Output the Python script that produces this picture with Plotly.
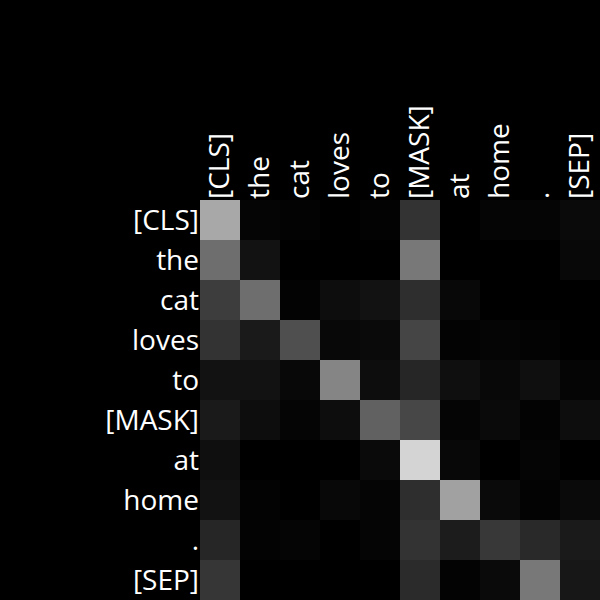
import plotly.graph_objects as go

tokens = ["[CLS]", "the", "cat", "loves", "to", "[MASK]", "at", "home", ".", "[SEP]"]

# attention weights (rows = query token, cols = key token)
attn = [
    [0.66, 0.02, 0.01, 0.00, 0.01, 0.20, 0.00, 0.02, 0.02, 0.04],
    [0.43, 0.07, 0.00, 0.00, 0.00, 0.47, 0.00, 0.00, 0.00, 0.03],
    [0.24, 0.43, 0.01, 0.05, 0.07, 0.18, 0.03, 0.00, 0.00, 0.00],
    [0.20, 0.10, 0.31, 0.03, 0.04, 0.27, 0.01, 0.02, 0.01, 0.00],
    [0.07, 0.07, 0.03, 0.52, 0.05, 0.15, 0.06, 0.03, 0.06, 0.02],
    [0.10, 0.05, 0.02, 0.05, 0.38, 0.28, 0.02, 0.04, 0.01, 0.05],
    [0.06, 0.00, 0.00, 0.00, 0.04, 0.83, 0.03, 0.00, 0.02, 0.00],
    [0.07, 0.01, 0.00, 0.03, 0.02, 0.18, 0.63, 0.04, 0.01, 0.04],
    [0.15, 0.01, 0.02, 0.00, 0.02, 0.20, 0.11, 0.22, 0.16, 0.10],
    [0.21, 0.00, 0.00, 0.00, 0.00, 0.17, 0.01, 0.04, 0.47, 0.09],
]

fig = go.Figure(
    go.Heatmap(
        z=attn,
        x=tokens,
        y=tokens,
        zmin=0,
        zmax=1,
        colorscale=[[0, "#000000"], [1, "#ffffff"]],
        showscale=False,
        xgap=0,
        ygap=0,
    )
)

fig.update_layout(
    width=600,
    height=600,
    margin=dict(l=200, r=0, t=200, b=0),
    paper_bgcolor="#000000",
    plot_bgcolor="#000000",
    font=dict(family="Open Sans", size=28, color="#ffffff"),
    xaxis=dict(side="top", tickangle=-90, showgrid=False, zeroline=False,
               ticks="", showline=False, type="category"),
    yaxis=dict(autorange="reversed", showgrid=False, zeroline=False,
               ticks="", showline=False, type="category"),
)

fig.write_html("out.html")
